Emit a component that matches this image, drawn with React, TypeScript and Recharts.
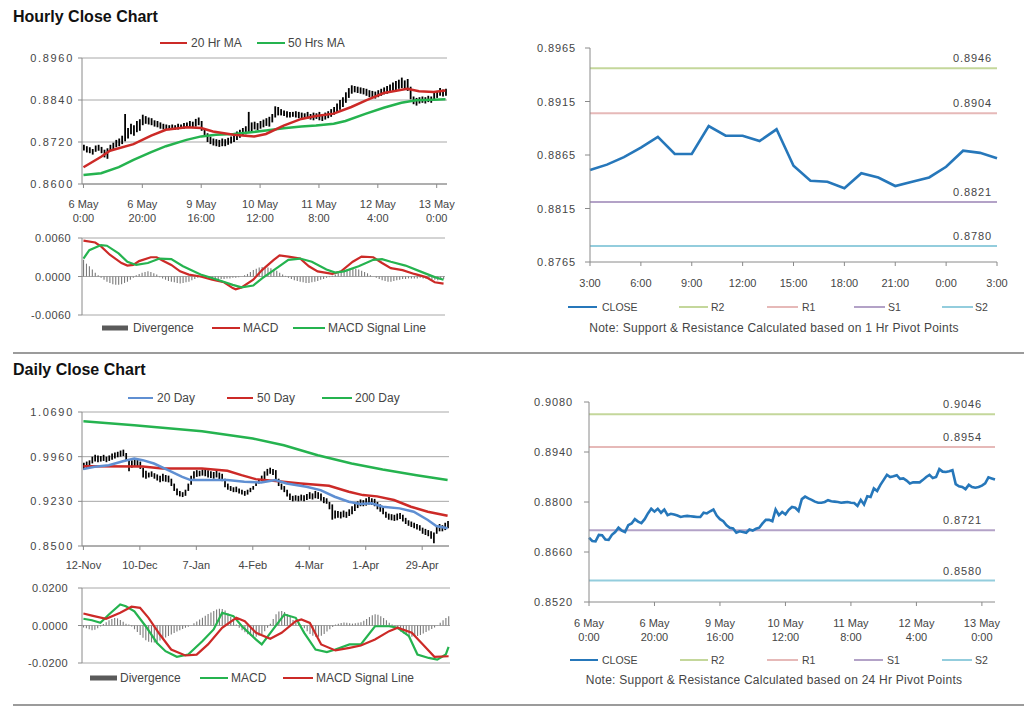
import React from 'react';
import { ComposedChart, LineChart, Line, Bar, XAxis, YAxis, CartesianGrid, ReferenceLine, Legend } from 'recharts';

// ---------------- DATA ----------------
// Hourly close chart (hi/lo bars per hour, index 0 = 6 May 0:00)
const hourlyHigh = [
  0.8712, 0.8708, 0.8705, 0.8700, 0.8710, 0.8712, 0.8706, 0.8698, 0.8702, 0.8712,
  0.8718, 0.8726, 0.8730, 0.8738, 0.8800, 0.8760, 0.8772, 0.8768, 0.8780, 0.8785,
  0.8798, 0.8794, 0.8790, 0.8788, 0.8782, 0.8780, 0.8776, 0.8772, 0.8770, 0.8768,
  0.8770, 0.8768, 0.8772, 0.8770, 0.8774, 0.8776, 0.8780, 0.8778, 0.8786, 0.8790,
  0.8780, 0.8758, 0.8745, 0.8735, 0.8730, 0.8728, 0.8726, 0.8730, 0.8728, 0.8732,
  0.8736, 0.8742, 0.8750, 0.8755, 0.8760, 0.8765, 0.8806, 0.8776, 0.8778, 0.8774,
  0.8780, 0.8784, 0.8788, 0.8792, 0.8800, 0.8822, 0.8820, 0.8814, 0.8810, 0.8808,
  0.8806, 0.8806, 0.8808, 0.8806, 0.8804, 0.8802, 0.8806, 0.8800, 0.8804, 0.8802,
  0.8806, 0.8800, 0.8804, 0.8808, 0.8814, 0.8820, 0.8830, 0.8840, 0.8848, 0.8862,
  0.8874, 0.8882, 0.8880, 0.8878, 0.8876, 0.8874, 0.8872, 0.8868, 0.8866, 0.8864,
  0.8868, 0.8872, 0.8876, 0.8880, 0.8884, 0.8890, 0.8894, 0.8898, 0.8904, 0.8896,
  0.8900, 0.8878, 0.8850, 0.8846, 0.8848, 0.8850, 0.8848, 0.8852, 0.8850, 0.8862,
  0.8866, 0.8874, 0.8870, 0.8872,
];
const hourlyLow = [
  0.8696, 0.8690, 0.8688, 0.8684, 0.8692, 0.8695, 0.8688, 0.8676, 0.8672, 0.8694,
  0.8700, 0.8705, 0.8708, 0.8714, 0.8722, 0.8730, 0.8742, 0.8738, 0.8748, 0.8752,
  0.8768, 0.8772, 0.8770, 0.8768, 0.8764, 0.8762, 0.8758, 0.8756, 0.8755, 0.8754,
  0.8756, 0.8755, 0.8756, 0.8757, 0.8758, 0.8760, 0.8762, 0.8760, 0.8764, 0.8768,
  0.8752, 0.8736, 0.8720, 0.8714, 0.8710, 0.8708, 0.8706, 0.8708, 0.8708, 0.8712,
  0.8716, 0.8720, 0.8726, 0.8732, 0.8738, 0.8742, 0.8746, 0.8750, 0.8756, 0.8754,
  0.8758, 0.8762, 0.8766, 0.8764, 0.8776, 0.8790, 0.8796, 0.8796, 0.8794, 0.8790,
  0.8790, 0.8792, 0.8790, 0.8788, 0.8788, 0.8786, 0.8786, 0.8784, 0.8782, 0.8786,
  0.8782, 0.8780, 0.8784, 0.8788, 0.8792, 0.8798, 0.8804, 0.8812, 0.8820, 0.8832,
  0.8846, 0.8858, 0.8862, 0.8860, 0.8858, 0.8856, 0.8852, 0.8848, 0.8846, 0.8844,
  0.8848, 0.8852, 0.8856, 0.8858, 0.8862, 0.8866, 0.8868, 0.8872, 0.8874, 0.8870,
  0.8866, 0.8842, 0.8828, 0.8824, 0.8830, 0.8832, 0.8830, 0.8834, 0.8832, 0.8840,
  0.8846, 0.8852, 0.8850, 0.8852,
];
const ma20Idx = [0, 6, 9, 17, 23, 28, 35, 40, 44, 51, 58, 62, 68, 74, 79, 85, 91, 96, 102, 110, 114, 119, 123];
const ma20Val = [0.8648, 0.8678, 0.8695, 0.8714, 0.8738, 0.8755, 0.8762, 0.8760, 0.8750, 0.8741, 0.8736, 0.8743, 0.8767, 0.8786, 0.8794, 0.8801, 0.8820, 0.8839, 0.8860, 0.8872, 0.8865, 0.8863, 0.8867];
const ma50Idx = [0, 6, 12, 17, 23, 28, 35, 40, 45, 51, 57, 62, 68, 74, 79, 85, 89, 96, 102, 108, 113, 119, 123];
const ma50Val = [0.8626, 0.8631, 0.8648, 0.8669, 0.8691, 0.8708, 0.8726, 0.8736, 0.8741, 0.8743, 0.8748, 0.8753, 0.8759, 0.8764, 0.8767, 0.8772, 0.8780, 0.8801, 0.8818, 0.8832, 0.8839, 0.8841, 0.8842];
const hourTickTop = ['6 May', '6 May', '9 May', '10 May', '11 May', '12 May', '13 May'];
const hourTickBottom = ['0:00', '20:00', '16:00', '12:00', '8:00', '4:00', '0:00'];
const hourlyYTicks = [0.86, 0.872, 0.884, 0.896];

// Hourly MACD
const hDivergence = [
  0.0026, 0.0020, 0.0016, 0.0011, 0.0006, 0.0002, -0.0002, -0.0005, -0.0008, -0.0010,
  -0.0012, -0.0013, -0.0013, -0.0012, -0.0010, -0.0008, -0.0005, -0.0002, 0.0002, 0.0004,
  0.0006, 0.0007, 0.0008, 0.0007, 0.0005, 0.0003, -0.0001, -0.0003, -0.0005, -0.0007,
  -0.0008, -0.0009, -0.0010, -0.0011, -0.0010, -0.0009, -0.0008, -0.0006, -0.0004, -0.0002,
  -0.0001, -0.0002, -0.0003, -0.0004, -0.0004, -0.0005, -0.0005, -0.0004, -0.0004, -0.0003,
  -0.0003, -0.0002, -0.0002, -0.0001, 0.0000, 0.0002, 0.0004, 0.0007, 0.0010, 0.0012,
  0.0014, 0.0015, 0.0015, 0.0014, 0.0013, 0.0011, 0.0009, 0.0006, 0.0003, 0.0001,
  -0.0002, -0.0004, -0.0006, -0.0007, -0.0008, -0.0009, -0.0010, -0.0010, -0.0009, -0.0008,
  -0.0007, -0.0005, -0.0004, -0.0002, -0.0001, 0.0001, 0.0003, 0.0005, 0.0007, 0.0009,
  0.0011, 0.0012, 0.0013, 0.0012, 0.0011, 0.0009, 0.0007, 0.0005, 0.0002, 0.0000,
  -0.0002, -0.0004, -0.0006, -0.0007, -0.0008, -0.0008, -0.0007, -0.0006, -0.0005, -0.0004,
  -0.0004, -0.0003, -0.0003, -0.0003, -0.0003, -0.0002, -0.0003, -0.0004, -0.0004, -0.0005,
  -0.0005, -0.0006, -0.0005, -0.0004,
];
const hMacdIdx = [0, 4, 6, 9, 13, 15, 17, 19, 23, 25, 27, 30, 33, 36, 40, 44, 48, 51, 52, 54, 58, 61, 65, 67, 70, 74, 77, 80, 85, 88, 92, 95, 99, 102, 105, 109, 113, 117, 120, 123];
const hMacdVal = [0.0056, 0.0053, 0.0047, 0.0034, 0.0021, 0.0017, 0.0018, 0.0024, 0.0030, 0.0030, 0.0025, 0.0018, 0.0008, 0.0003, 0.0000, -0.0005, -0.0009, -0.0018, -0.0020, -0.0017, -0.0005, 0.0010, 0.0026, 0.0033, 0.0031, 0.0028, 0.0016, 0.0008, 0.0004, 0.0008, 0.0023, 0.0031, 0.0030, 0.0021, 0.0013, 0.0010, 0.0004, -0.0001, -0.0009, -0.0011];
const hSigIdx = [0, 2, 6, 8, 12, 15, 18, 22, 26, 30, 34, 40, 45, 51, 54, 58, 61, 66, 70, 74, 78, 83, 86, 89, 94, 99, 102, 105, 110, 115, 120, 123];
const hSigVal = [0.0028, 0.0041, 0.0049, 0.0048, 0.0036, 0.0023, 0.0018, 0.0021, 0.0028, 0.0027, 0.0016, 0.0003, -0.0004, -0.0013, -0.0017, -0.0014, -0.0003, 0.0013, 0.0026, 0.0028, 0.0023, 0.0011, 0.0006, 0.0008, 0.0016, 0.0026, 0.0027, 0.0023, 0.0017, 0.0008, -0.0001, -0.0005];
const macdHourTicks = [-0.006, 0, 0.006];

// 1 Hr pivot chart
const pivotHourLabels = ['3:00', '6:00', '9:00', '12:00', '15:00', '18:00', '21:00', '0:00', '3:00'];
const pivotHourClose = [0.8851, 0.8856, 0.8863, 0.8872, 0.8882, 0.8866, 0.8866, 0.8892, 0.8883, 0.8883, 0.8878, 0.8889, 0.8855, 0.8841, 0.8840, 0.8834, 0.8848, 0.8844, 0.8836, 0.8840, 0.8844, 0.8854, 0.8869, 0.8867, 0.8862];
const pivotNames = ['R2', 'R1', 'S1', 'S2'];
const pivotHourLevels = [0.8946, 0.8904, 0.8821, 0.8780];
const pivotHourYTicks = [0.8765, 0.8815, 0.8865, 0.8915, 0.8965];

// Daily close chart (index 0 = 12-Nov)
const dailyHigh = [
  0.9860, 0.9880, 0.9900, 0.9960, 0.9990, 0.9980, 0.9970, 0.9990, 0.9960, 0.9980,
  1.0010, 1.0030, 1.0040, 1.0060, 1.0075, 1.0020, 0.9920, 0.9900, 0.9920, 0.9910,
  0.9880, 0.9780, 0.9730, 0.9700, 0.9720, 0.9690, 0.9670, 0.9650, 0.9680, 0.9660,
  0.9650, 0.9600, 0.9520, 0.9440, 0.9400, 0.9380, 0.9420, 0.9520, 0.9650, 0.9720,
  0.9740, 0.9730, 0.9750, 0.9760, 0.9740, 0.9720, 0.9710, 0.9730, 0.9700, 0.9680,
  0.9600, 0.9520, 0.9480, 0.9460, 0.9470, 0.9440, 0.9420, 0.9400, 0.9420, 0.9450,
  0.9480, 0.9530, 0.9590, 0.9650, 0.9720, 0.9760, 0.9780, 0.9760, 0.9740, 0.9600,
  0.9520, 0.9480, 0.9420, 0.9360, 0.9320, 0.9330, 0.9320, 0.9340, 0.9330, 0.9350,
  0.9380, 0.9360, 0.9400, 0.9380, 0.9360, 0.9300, 0.9280, 0.9220, 0.9180, 0.9080,
  0.9070, 0.9060, 0.9080, 0.9060, 0.9100, 0.9150, 0.9200, 0.9230, 0.9260, 0.9250,
  0.9280, 0.9300, 0.9280, 0.9270, 0.9220, 0.9180, 0.9120, 0.9060, 0.9030, 0.9020,
  0.9010, 0.9030, 0.9040, 0.9010, 0.8960, 0.8920, 0.8900, 0.8880, 0.8860, 0.8840,
  0.8800, 0.8780, 0.8760, 0.8740, 0.8720, 0.8820, 0.8860, 0.8840, 0.8880, 0.8910,
];
const dailyLow = [
  0.9750, 0.9770, 0.9800, 0.9850, 0.9880, 0.9870, 0.9880, 0.9890, 0.9870, 0.9890,
  0.9910, 0.9930, 0.9950, 0.9960, 0.9970, 0.9900, 0.9720, 0.9780, 0.9800, 0.9790,
  0.9760, 0.9620, 0.9600, 0.9620, 0.9630, 0.9600, 0.9570, 0.9540, 0.9560, 0.9550,
  0.9540, 0.9480, 0.9400, 0.9330, 0.9310, 0.9300, 0.9320, 0.9400, 0.9500, 0.9600,
  0.9630, 0.9640, 0.9650, 0.9640, 0.9620, 0.9610, 0.9600, 0.9620, 0.9580, 0.9560,
  0.9460, 0.9420, 0.9400, 0.9380, 0.9380, 0.9360, 0.9340, 0.9320, 0.9340, 0.9380,
  0.9420, 0.9480, 0.9520, 0.9560, 0.9590, 0.9650, 0.9680, 0.9660, 0.9580, 0.9480,
  0.9420, 0.9380, 0.9310, 0.9250, 0.9230, 0.9240, 0.9230, 0.9240, 0.9230, 0.9250,
  0.9270, 0.9260, 0.9280, 0.9270, 0.9240, 0.9200, 0.9190, 0.9100, 0.8930, 0.8950,
  0.8960, 0.8950, 0.8970, 0.8960, 0.8990, 0.9020, 0.9070, 0.9120, 0.9150, 0.9150,
  0.9160, 0.9180, 0.9170, 0.9150, 0.9100, 0.9060, 0.9020, 0.8960, 0.8930, 0.8920,
  0.8910, 0.8920, 0.8940, 0.8900, 0.8860, 0.8830, 0.8810, 0.8790, 0.8770, 0.8750,
  0.8700, 0.8680, 0.8660, 0.8620, 0.8545, 0.8700, 0.8740, 0.8740, 0.8760, 0.8790,
];
const d20Idx = [0, 4, 9, 14, 18, 21, 25, 30, 35, 38, 44, 51, 57, 63, 68, 72, 79, 84, 89, 94, 98, 102, 106, 112, 117, 122, 125, 129];
const d20Val = [0.9756, 0.9794, 0.9821, 0.9886, 0.9930, 0.9903, 0.9848, 0.9740, 0.9631, 0.9577, 0.9577, 0.9577, 0.9550, 0.9539, 0.9577, 0.9523, 0.9468, 0.9414, 0.9305, 0.9224, 0.9186, 0.9197, 0.9142, 0.9115, 0.9061, 0.8925, 0.8827, 0.8790];
const d50Idx = [0, 21, 28, 42, 51, 56, 61, 69, 77, 87, 94, 99, 104, 110, 116, 122, 129];
const d50Val = [0.9805, 0.9800, 0.9767, 0.9767, 0.9729, 0.9658, 0.9593, 0.9560, 0.9523, 0.9485, 0.9387, 0.9332, 0.9311, 0.9251, 0.9142, 0.9061, 0.8996];
const d200Idx = [0, 18, 42, 60, 71, 83, 95, 106, 118, 129];
const d200Val = [1.0538, 1.0473, 1.0375, 1.0256, 1.0147, 0.9984, 0.9848, 0.9751, 0.9658, 0.9577];
const dailyTickLabels = ['12-Nov', '10-Dec', '7-Jan', '4-Feb', '4-Mar', '1-Apr', '29-Apr'];
const dailyYTicks = [0.85, 0.923, 0.996, 1.069];

// Daily MACD
const dDivergence = [
  -0.0010, -0.0015, -0.0020, -0.0025, -0.0022, -0.0015, -0.0005, 0.0008, 0.0018, 0.0028,
  0.0035, 0.0040, 0.0038, 0.0030, 0.0020, 0.0010, 0.0005, -0.0005, -0.0020, -0.0035,
  -0.0050, -0.0065, -0.0078, -0.0086, -0.0090, -0.0090, -0.0086, -0.0080, -0.0072, -0.0064,
  -0.0056, -0.0048, -0.0040, -0.0032, -0.0025, -0.0018, -0.0012, -0.0006, 0.0002, 0.0012,
  0.0022, 0.0032, 0.0042, 0.0052, 0.0062, 0.0070, 0.0078, 0.0085, 0.0090, 0.0088,
  0.0080, 0.0065, 0.0045, 0.0025, 0.0005, -0.0012, -0.0025, -0.0036, -0.0046, -0.0054,
  -0.0058, -0.0060, -0.0055, -0.0045, -0.0030, -0.0012, 0.0010, 0.0035, 0.0060, 0.0075,
  0.0078, 0.0072, 0.0060, 0.0045, 0.0030, 0.0018, 0.0008, -0.0002, -0.0015, -0.0030,
  -0.0045, -0.0055, -0.0060, -0.0060, -0.0055, -0.0045, -0.0032, -0.0020, -0.0008, 0.0005,
  0.0010, 0.0014, 0.0016, 0.0015, 0.0012, 0.0010, 0.0012, 0.0015, 0.0018, 0.0025,
  0.0035, 0.0045, 0.0055, 0.0060, 0.0058, 0.0050, 0.0040, 0.0028, 0.0015, 0.0005,
  -0.0008, -0.0020, -0.0032, -0.0042, -0.0050, -0.0056, -0.0060, -0.0060, -0.0056, -0.0050,
  -0.0042, -0.0034, -0.0026, -0.0018, -0.0010, 0.0002, 0.0015, 0.0028, 0.0040, 0.0050,
];
const dMacdIdx = [0, 3, 6, 9, 13, 15, 18, 22, 26, 29, 33, 37, 42, 46, 49, 53, 56, 61, 63, 67, 71, 75, 78, 82, 86, 89, 94, 98, 103, 108, 111, 115, 118, 122, 125, 128, 129];
const dMacdVal = [0.0036, 0.0028, 0.0014, 0.0059, 0.0112, 0.0103, 0.0076, -0.0004, -0.0093, -0.0137, -0.0167, -0.0155, -0.0084, -0.0021, 0.0068, 0.0050, -0.0004, -0.0075, -0.0101, -0.0021, 0.0059, 0.0041, -0.0039, -0.0128, -0.0142, -0.0128, -0.0101, -0.0101, -0.0004, -0.0004, -0.0012, -0.0057, -0.0155, -0.0173, -0.0182, -0.0155, -0.0114];
const dSigIdx = [0, 3, 8, 13, 17, 20, 23, 27, 31, 36, 40, 44, 49, 54, 57, 61, 66, 70, 75, 77, 80, 84, 89, 94, 98, 103, 108, 111, 116, 121, 124, 129];
const dSigVal = [0.0064, 0.0053, 0.0036, 0.0068, 0.0100, 0.0094, 0.0041, -0.0048, -0.0128, -0.0160, -0.0155, -0.0101, -0.0012, 0.0041, 0.0023, -0.0039, -0.0071, -0.0039, 0.0023, 0.0032, 0.0014, -0.0101, -0.0133, -0.0119, -0.0107, -0.0075, -0.0030, -0.0012, -0.0039, -0.0119, -0.0167, -0.0164];
const macdDayTicks = [-0.02, 0, 0.02];

// 24 Hr pivot chart (hourly closes, index 0 = 6 May 0:00)
const pivotDayClose = [
  0.8700, 0.8691, 0.8690, 0.8708, 0.8707, 0.8695, 0.8694, 0.8708, 0.8716, 0.8728,
  0.8720, 0.8716, 0.8735, 0.8740, 0.8752, 0.8745, 0.8741, 0.8752, 0.8768, 0.8781,
  0.8773, 0.8781, 0.8770, 0.8779, 0.8763, 0.8767, 0.8765, 0.8762, 0.8758, 0.8760,
  0.8761, 0.8760, 0.8759, 0.8758, 0.8758, 0.8770, 0.8768, 0.8774, 0.8779, 0.8762,
  0.8752, 0.8746, 0.8735, 0.8728, 0.8726, 0.8714, 0.8718, 0.8716, 0.8714, 0.8723,
  0.8720, 0.8725, 0.8728, 0.8740, 0.8750, 0.8750, 0.8746, 0.8779, 0.8763, 0.8772,
  0.8765, 0.8778, 0.8786, 0.8784, 0.8775, 0.8808, 0.8815, 0.8810, 0.8806, 0.8801,
  0.8798, 0.8798, 0.8800, 0.8805, 0.8802, 0.8801, 0.8800, 0.8798, 0.8799, 0.8800,
  0.8798, 0.8797, 0.8789, 0.8806, 0.8793, 0.8816, 0.8814, 0.8838, 0.8831, 0.8848,
  0.8862, 0.8876, 0.8870, 0.8872, 0.8875, 0.8865, 0.8866, 0.8860, 0.8852, 0.8855,
  0.8855, 0.8855, 0.8862, 0.8870, 0.8876, 0.8867, 0.8870, 0.8892, 0.8885, 0.8884,
  0.8886, 0.8889, 0.8850, 0.8844, 0.8842, 0.8836, 0.8848, 0.8842, 0.8840, 0.8842,
  0.8846, 0.8852, 0.8869, 0.8866, 0.8863,
];
const pivotDayLevels = [0.9046, 0.8954, 0.8721, 0.8580];
const pivotDayYTicks = [0.852, 0.866, 0.88, 0.894, 0.908];

// ---------------- STYLE ----------------
const FONT = '"Liberation Sans", Arial, Helvetica, sans-serif';
const TXT = '#454545';
const AXIS = '#8a8a8a';
const GRID = '#a8a8a8';
const RED = '#cc2a27';
const GREEN = '#25b34f';
const BLUE_MA = '#5f8fd2';
const CLOSE = '#2677ba';
const DIV = '#7a7a7a';
const PIVOT_COLORS = ['#c4d79b', '#e6b9b8', '#b3a2c7', '#93cddd'];

// ---------------- HELPERS ----------------
function sparse(n: number, idx: number[], val: number[]) {
  const out: (number | null)[] = new Array(n).fill(null);
  idx.forEach((k, j) => {
    out[k] = val[j];
  });
  return out;
}

const ma20Full = sparse(hourlyHigh.length, ma20Idx, ma20Val);
const ma50Full = sparse(hourlyHigh.length, ma50Idx, ma50Val);
const hourlyRows = hourlyHigh.map((h, i) => ({ i, range: [hourlyLow[i], h], ma20: ma20Full[i], ma50: ma50Full[i] }));

const hMacdFull = sparse(hDivergence.length, hMacdIdx, hMacdVal);
const hSigFull = sparse(hDivergence.length, hSigIdx, hSigVal);
const hMacdRows = hDivergence.map((d, i) => ({ i, div: d, macd: hMacdFull[i], sig: hSigFull[i] }));

const pivotHourRows = pivotHourClose.map((c, i) => ({ i, close: c }));

const d20Full = sparse(dailyHigh.length, d20Idx, d20Val);
const d50Full = sparse(dailyHigh.length, d50Idx, d50Val);
const d200Full = sparse(dailyHigh.length, d200Idx, d200Val);
const dailyRows = dailyHigh.map((h, i) => ({ i, range: [dailyLow[i], h], d20: d20Full[i], d50: d50Full[i], d200: d200Full[i] }));

const dMacdFull = sparse(dDivergence.length, dMacdIdx, dMacdVal);
const dSigFull = sparse(dDivergence.length, dSigIdx, dSigVal);
const dMacdRows = dDivergence.map((d, i) => ({ i, div: d, macd: dMacdFull[i], sig: dSigFull[i] }));

const pivotDayRows = pivotDayClose.map((c, i) => ({ i, close: c }));

const yTick = (spacing: number) => (p: any) => (
  <text x={p.x} y={p.y} dy={4} textAnchor="end" fontSize={11} fill={TXT} style={{ letterSpacing: spacing }}>
    {Number(p.payload.value).toFixed(4)}
  </text>
);

const twoLineTick = (top: string[], bottom: string[], step: number, gap: number) => (p: any) => {
  const k = Math.round(Number(p.payload.value) / step);
  return (
    <text x={p.x} y={p.y} textAnchor="middle" fontSize={11} fill={TXT}>
      <tspan x={p.x} dy={11}>{top[k]}</tspan>
      <tspan x={p.x} dy={gap}>{bottom[k]}</tspan>
    </text>
  );
};

const oneLineTick = (labels: string[], step: number) => (p: any) => {
  const k = Math.round(Number(p.payload.value) / step);
  return (
    <text x={p.x} y={p.y} dy={11} textAnchor="middle" fontSize={11} fill={TXT}>
      {labels[k]}
    </text>
  );
};

const pivotLabel = (text: string, rightPad: number) => (p: any) => {
  const vb = p.viewBox || {};
  return (
    <text x={vb.x + vb.width - rightPad} y={vb.y - 6} textAnchor="end" fontSize={11} fill={TXT} style={{ letterSpacing: 0.9 }}>
      {text}
    </text>
  );
};

type LegItem = { label: string; color: string; kind: 'line' | 'rect'; x1: number; x2: number; tx: number };

const legendOf = (
  w: number,
  h: number,
  cy: number,
  items: LegItem[],
  fontSize: number,
  note?: { text: string; cx: number; y: number }
) => () => (
  <svg width={w} height={h} style={{ display: 'block', pointerEvents: 'none' }}>
    {items.map((it) => (
      <g key={it.label}>
        {it.kind === 'line' ? (
          <line x1={it.x1} x2={it.x2} y1={cy} y2={cy} stroke={it.color} strokeWidth={2} />
        ) : (
          <rect x={it.x1} y={cy - 2.5} width={it.x2 - it.x1} height={5} fill={it.color} />
        )}
        <text x={it.tx} y={cy + fontSize * 0.36} fontSize={fontSize} fill={TXT}>
          {it.label}
        </text>
      </g>
    ))}
    {note ? (
      <text x={note.cx} y={note.y} textAnchor="middle" fontSize={12} fill={TXT} style={{ letterSpacing: 0.25 }}>
        {note.text}
      </text>
    ) : null}
  </svg>
);

const legendWrap = (w: number, h: number) => ({ left: 0, top: 0, width: w, height: h, pointerEvents: 'none' as const });

// ---------------- APP ----------------
export default function App() {
  const box = (left: number, top: number, width: number, height: number): React.CSSProperties => ({
    position: 'absolute',
    left,
    top,
    width,
    height,
  });

  return (
    <div style={{ position: 'absolute', left: 0, top: 0, width: 1024, height: 706, background: '#fff', fontFamily: FONT, overflow: 'hidden' }}>
      <svg width={1024} height={706} style={{ position: 'absolute', left: 0, top: 0 }}>
        <text x={13} y={21.5} fontSize={16} fontWeight="bold" fill="#111">Hourly Close Chart</text>
        <text x={13} y={375} fontSize={16} fontWeight="bold" fill="#111">Daily Close Chart</text>
        <rect x={13} y={352} width={1011} height={2} fill="#9b9b9b" />
        <rect x={13} y={704} width={1011} height={2} fill="#9b9b9b" />
      </svg>

      {/* Hourly candles */}
      <div style={box(0, 30, 460, 200)}>
        <ComposedChart width={460} height={200} data={hourlyRows} margin={{ top: 28, right: 13, bottom: 10, left: 0 }}>
          <CartesianGrid vertical={false} stroke={GRID} />
          <XAxis dataKey="i" interval={19} height={36} tickSize={4} tickMargin={9} stroke={AXIS} tick={twoLineTick(hourTickTop, hourTickBottom, 20, 13.5)} />
          <YAxis width={82} domain={[0.86, 0.896]} ticks={hourlyYTicks} tickSize={4} tickMargin={4} stroke={AXIS} tick={yTick(1.7)} />
          <Bar dataKey="range" fill="#000" barSize={1.8} isAnimationActive={false} />
          <Line dataKey="ma50" stroke={GREEN} strokeWidth={2.5} dot={false} connectNulls isAnimationActive={false} />
          <Line dataKey="ma20" stroke={RED} strokeWidth={2.5} dot={false} connectNulls isAnimationActive={false} />
          <Legend
            layout="horizontal"
            verticalAlign="middle"
            align="center"
            wrapperStyle={legendWrap(460, 30)}
            content={legendOf(460, 30, 13, [
              { label: '20 Hr MA', color: RED, kind: 'line', x1: 160, x2: 187, tx: 191 },
              { label: '50 Hrs MA', color: GREEN, kind: 'line', x1: 257, x2: 285, tx: 288 },
            ], 12)}
          />
        </ComposedChart>
      </div>

      {/* Hourly MACD */}
      <div style={box(0, 225, 460, 115)}>
        <ComposedChart width={460} height={115} data={hMacdRows} margin={{ top: 13, right: 15, bottom: 25, left: 0 }}>
          <CartesianGrid vertical={false} stroke={GRID} />
          <XAxis dataKey="i" hide />
          <YAxis width={82} domain={[-0.006, 0.006]} ticks={macdHourTicks} tickSize={4} tickMargin={7} stroke={AXIS} tick={yTick(0.4)} />
          <Bar dataKey="div" fill={DIV} barSize={1.1} isAnimationActive={false} />
          <Line dataKey="macd" stroke={RED} strokeWidth={2.2} dot={false} connectNulls isAnimationActive={false} />
          <Line dataKey="sig" stroke={GREEN} strokeWidth={2.2} dot={false} connectNulls isAnimationActive={false} />
          <Legend
            layout="horizontal"
            verticalAlign="middle"
            align="center"
            wrapperStyle={legendWrap(460, 115)}
            content={legendOf(460, 115, 103, [
              { label: 'Divergence', color: '#5a5a5a', kind: 'rect', x1: 102, x2: 128, tx: 133 },
              { label: 'MACD', color: RED, kind: 'line', x1: 212, x2: 240, tx: 243 },
              { label: 'MACD  Signal Line', color: GREEN, kind: 'line', x1: 293, x2: 325, tx: 328 },
            ], 12)}
          />
        </ComposedChart>
      </div>

      {/* 1 Hr pivot chart */}
      <div style={box(500, 20, 524, 320)}>
        <LineChart width={524} height={320} data={pivotHourRows} margin={{ top: 28, right: 27, bottom: 48, left: 0 }}>
          <XAxis dataKey="i" interval={2} height={30} tickSize={4} tickMargin={10} stroke={AXIS} tick={oneLineTick(pivotHourLabels, 3)} />
          <YAxis width={90} domain={[0.8765, 0.8965]} ticks={pivotHourYTicks} tickSize={5} tickMargin={9} stroke={AXIS} tick={yTick(0.9)} />
          {pivotHourLevels.map((v, k) => (
            <ReferenceLine key={pivotNames[k]} y={v} stroke={PIVOT_COLORS[k]} strokeWidth={2} label={pivotLabel(v.toFixed(4), 5)} />
          ))}
          <Line dataKey="close" stroke={CLOSE} strokeWidth={2.6} dot={false} isAnimationActive={false} />
          <Legend
            layout="horizontal"
            verticalAlign="middle"
            align="center"
            wrapperStyle={legendWrap(524, 320)}
            content={legendOf(524, 320, 287, [
              { label: 'CLOSE', color: CLOSE, kind: 'line', x1: 68, x2: 97, tx: 102 },
              { label: pivotNames[0], color: PIVOT_COLORS[0], kind: 'line', x1: 179, x2: 208, tx: 211 },
              { label: pivotNames[1], color: PIVOT_COLORS[1], kind: 'line', x1: 267, x2: 298, tx: 302 },
              { label: pivotNames[2], color: PIVOT_COLORS[2], kind: 'line', x1: 354, x2: 385, tx: 388 },
              { label: pivotNames[3], color: PIVOT_COLORS[3], kind: 'line', x1: 442, x2: 473, tx: 475 },
            ], 10.5, { text: 'Note: Support & Resistance Calculated based on 1 Hr Pivot Points', cx: 274, y: 312 })}
          />
        </LineChart>
      </div>

      {/* Daily candles */}
      <div style={box(0, 385, 460, 195)}>
        <ComposedChart width={460} height={195} data={dailyRows} margin={{ top: 27, right: 11, bottom: 10, left: 0 }}>
          <CartesianGrid vertical={false} stroke={GRID} />
          <XAxis dataKey="i" interval={19} height={24} tickSize={4} tickMargin={8} stroke={AXIS} tick={oneLineTick(dailyTickLabels, 20)} />
          <YAxis width={82} domain={[0.85, 1.069]} ticks={dailyYTicks} tickSize={4} tickMargin={4} stroke={AXIS} tick={yTick(1.7)} />
          <Bar dataKey="range" fill="#000" barSize={1.7} isAnimationActive={false} />
          <Line dataKey="d200" stroke={GREEN} strokeWidth={2.5} dot={false} connectNulls isAnimationActive={false} />
          <Line dataKey="d50" stroke={RED} strokeWidth={2.5} dot={false} connectNulls isAnimationActive={false} />
          <Line dataKey="d20" stroke={BLUE_MA} strokeWidth={2.5} dot={false} connectNulls isAnimationActive={false} />
          <Legend
            layout="horizontal"
            verticalAlign="middle"
            align="center"
            wrapperStyle={legendWrap(460, 30)}
            content={legendOf(460, 30, 13, [
              { label: '20 Day', color: BLUE_MA, kind: 'line', x1: 128, x2: 153, tx: 157 },
              { label: '50 Day', color: RED, kind: 'line', x1: 227, x2: 253, tx: 257 },
              { label: '200 Day', color: GREEN, kind: 'line', x1: 322, x2: 352, tx: 355 },
            ], 12)}
          />
        </ComposedChart>
      </div>

      {/* Daily MACD */}
      <div style={box(0, 575, 460, 120)}>
        <ComposedChart width={460} height={120} data={dMacdRows} margin={{ top: 13, right: 10, bottom: 32, left: 0 }}>
          <CartesianGrid vertical={false} stroke={GRID} />
          <XAxis dataKey="i" hide />
          <YAxis width={82} domain={[-0.02, 0.02]} ticks={macdDayTicks} tickSize={4} tickMargin={10} stroke={AXIS} tick={yTick(0.4)} />
          <Bar dataKey="div" fill={DIV} barSize={1.1} isAnimationActive={false} />
          <Line dataKey="macd" stroke={GREEN} strokeWidth={2.2} dot={false} connectNulls isAnimationActive={false} />
          <Line dataKey="sig" stroke={RED} strokeWidth={2.2} dot={false} connectNulls isAnimationActive={false} />
          <Legend
            layout="horizontal"
            verticalAlign="middle"
            align="center"
            wrapperStyle={legendWrap(460, 120)}
            content={legendOf(460, 120, 103, [
              { label: 'Divergence', color: '#5a5a5a', kind: 'rect', x1: 90, x2: 117, tx: 120 },
              { label: 'MACD', color: GREEN, kind: 'line', x1: 200, x2: 228, tx: 231 },
              { label: 'MACD  Signal Line', color: RED, kind: 'line', x1: 283, x2: 313, tx: 316 },
            ], 12)}
          />
        </ComposedChart>
      </div>

      {/* 24 Hr pivot chart */}
      <div style={box(500, 380, 524, 320)}>
        <LineChart width={524} height={320} data={pivotDayRows} margin={{ top: 22, right: 29, bottom: 48, left: 0 }}>
          <XAxis dataKey="i" interval={19} height={50} tickSize={4} tickMargin={10} stroke={AXIS} tick={twoLineTick(hourTickTop, hourTickBottom, 20, 14)} />
          <YAxis width={89} domain={[0.852, 0.908]} ticks={pivotDayYTicks} tickSize={5} tickMargin={11} stroke={AXIS} tick={yTick(0.9)} />
          {pivotDayLevels.map((v, k) => (
            <ReferenceLine key={pivotNames[k]} y={v} stroke={PIVOT_COLORS[k]} strokeWidth={2} label={pivotLabel(v.toFixed(4), 13)} />
          ))}
          <Line dataKey="close" stroke={CLOSE} strokeWidth={2.6} dot={false} isAnimationActive={false} />
          <Legend
            layout="horizontal"
            verticalAlign="middle"
            align="center"
            wrapperStyle={legendWrap(524, 320)}
            content={legendOf(524, 320, 280, [
              { label: 'CLOSE', color: CLOSE, kind: 'line', x1: 70, x2: 98, tx: 102 },
              { label: pivotNames[0], color: PIVOT_COLORS[0], kind: 'line', x1: 180, x2: 208, tx: 211 },
              { label: pivotNames[1], color: PIVOT_COLORS[1], kind: 'line', x1: 267, x2: 298, tx: 302 },
              { label: pivotNames[2], color: PIVOT_COLORS[2], kind: 'line', x1: 354, x2: 383, tx: 387 },
              { label: pivotNames[3], color: PIVOT_COLORS[3], kind: 'line', x1: 442, x2: 472, tx: 475 },
            ], 10.5, { text: 'Note: Support & Resistance Calculated based on 24 Hr Pivot Points', cx: 274, y: 304 })}
          />
        </LineChart>
      </div>
    </div>
  );
}
